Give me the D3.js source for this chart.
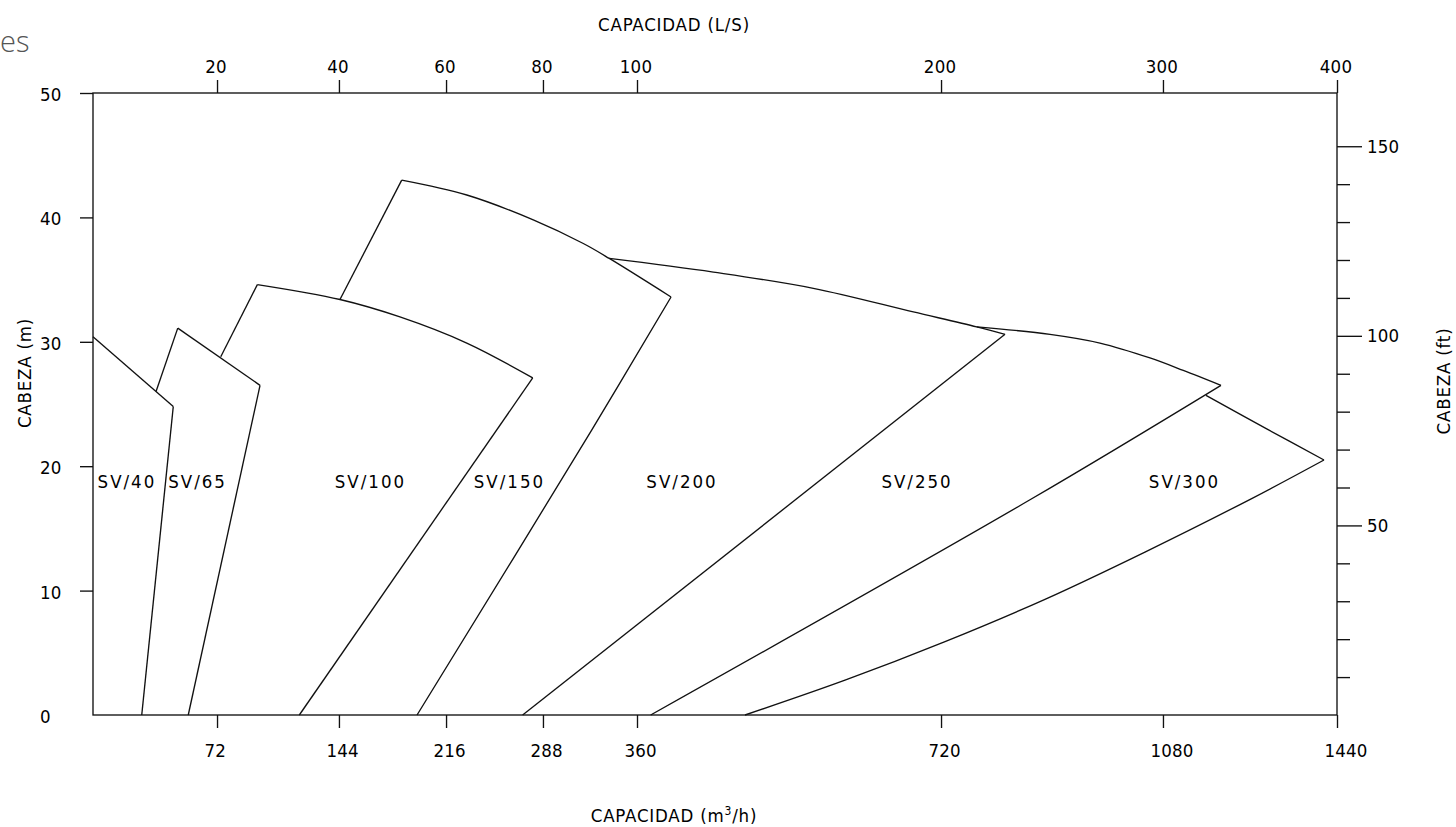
<!DOCTYPE html>
<html>
<head>
<meta charset="utf-8">
<script src="https://cdn.jsdelivr.net/npm/d3@7"></script>
<style>
  html, body { margin: 0; padding: 0; background: #fff; }
  svg { display: block; }
  text { font-family: "DejaVu Sans Condensed", "DejaVu Sans", sans-serif; fill: #000; }
</style>
</head>
<body>
<svg id="chart" width="1456" height="827"></svg>
<script>
// ---- axis ticks ----
const flowTicksM3h = [72, 144, 216, 288, 360, 720, 1080, 1440];
const flowTicksLs  = [20, 40, 60, 80, 100, 200, 300, 400];
const headTicksM   = [10, 20, 30, 40, 50];
const headLabelsM  = [0, 10, 20, 30, 40, 50];
const headTicksFt  = [10, 20, 30, 40, 50, 60, 70, 80, 90, 100, 110, 120, 130, 140, 150];
const headLabelsFt = [50, 100, 150];

// ---- pump models: operating envelopes as [capacity m³/h, head m] ----
const models = ["SV/40", "SV/65", "SV/100", "SV/150", "SV/200", "SV/250", "SV/300"];
const labelFlow = [19.7, 60.7, 165.2, 263.1, 413.3, 691.6, 1124.5];
const labelHead = 18.8;

// each outline is a list of edges; an edge is drawn straight or smoothly through its points
const sv40 = [
  [[0, 30.4], [46.6, 24.8]],
  [[46.6, 24.8], [28.3, 0]]
];
const sv65 = [
  [[36.6, 26.0], [49.2, 31.1]],
  [[49.2, 31.1], [97.4, 26.5]],
  [[97.4, 26.5], [55.3, 0]]
];
const sv100 = [
  [[74.2, 28.8], [95.8, 34.6]],
  [[95.8, 34.6], [144.7, 33.4], [185.0, 32.0], [231.4, 29.9], [280.4, 27.1]],
  [[280.4, 27.1], [120.6, 0]]
];
const sv150 = [
  [[144.7, 33.4], [186.2, 43.0]],
  [[186.2, 43.0], [231.4, 41.8], [280.8, 39.8], [318.9, 37.9], [338.8, 36.7], [400.3, 33.6]],
  [[400.3, 33.6], [325.3, 22.9], [196.5, 0]]
];
const sv200 = [
  [[338.8, 36.7], [450.4, 35.6], [568.8, 34.3], [687.2, 32.4], [777.9, 31.2], [823.8, 30.6]],
  [[823.8, 30.6], [272.9, 0]]
];
const sv250 = [
  [[777.9, 31.2], [896.8, 30.6], [977.8, 29.9], [1058.9, 28.7], [1122.0, 27.7], [1200, 26.5]],
  [[1200, 26.5], [864.3, 17.3], [376.2, 0]]
];
const sv300 = [
  [[1169.0, 25.7], [1294.6, 23.0], [1413.1, 20.5]],
  [[1413.1, 20.5], [1263.5, 17.4], [1050.8, 13.1], [888.6, 9.3], [726.5, 5.9], [606.3, 2.8], [487.9, 0]]
];
const outlines = [sv40, sv65, sv100, sv150, sv200, sv250, sv300];

// ---- layout ----
const svg = d3.select("#chart");
const plotLeft = 93, plotRight = 1337, plotTop = 93, plotBottom = 715;
const plotW = plotRight - plotLeft;
const LS_TO_M3H = 3.6;
const M_PER_FT = 0.3048;

// the capacity axis is graduated non-uniformly: each labelled step has its own length
const stepShare = [0, 0.0997, 0.1977, 0.2838, 0.3617, 0.4373, 0.6817, 0.8601, 1];
const x = d3.scaleLinear()
  .domain([0, ...flowTicksM3h])
  .range(stepShare.map(f => plotLeft + f * plotW));
const xLs = d3.scaleLinear()
  .domain(x.domain().map(v => v / LS_TO_M3H))
  .range(x.range());

const y = d3.scaleLinear().domain([0, 50]).range([plotBottom, plotTop]);
const yFt = d3.scaleLinear().domain([0, 50 / M_PER_FT]).range([plotBottom, plotTop]);

const ink = "#111";
const sw = 1.35;
const numSize = 18.5, numSpacing = "0.2px";

// ---- frame ----
svg.append("rect")
  .attr("x", plotLeft).attr("y", plotTop)
  .attr("width", plotW).attr("height", plotBottom - plotTop)
  .attr("fill", "none").attr("stroke", ink).attr("stroke-width", sw);

// ---- axes ----
function styleAxis(g) {
  g.select(".domain").remove();
  g.selectAll("line").attr("stroke", ink).attr("stroke-width", sw);
  g.selectAll("text").attr("font-size", numSize).attr("letter-spacing", numSpacing)
    .attr("fill", "#000");
  g.attr("font-family", null).attr("font-size", null);
}

// bottom: m³/h
svg.append("g")
  .attr("transform", `translate(0,${plotBottom})`)
  .call(d3.axisBottom(x).tickValues(flowTicksM3h).tickSize(13).tickSizeOuter(0).tickFormat(d3.format("d")))
  .call(styleAxis)
  .call(g => g.selectAll("text").attr("y", 42).attr("dy", 0).attr("x", -13).attr("text-anchor", "start"));

// top: L/s
svg.append("g")
  .attr("transform", `translate(0,${plotTop})`)
  .call(d3.axisTop(xLs).tickValues(flowTicksLs).tickSize(13).tickSizeOuter(0).tickFormat(d3.format("d")))
  .call(styleAxis)
  .call(g => g.selectAll("text").attr("y", -20).attr("dy", 0).attr("x", -1.5).attr("text-anchor", "middle"));

// left: metres
svg.append("g")
  .attr("transform", `translate(${plotLeft},0)`)
  .call(d3.axisLeft(y).tickValues(headTicksM).tickSize(13).tickSizeOuter(0).tickFormat(() => ""))
  .call(styleAxis);
svg.append("g").selectAll("text")
  .data(headLabelsM).join("text")
  .attr("x", 40).attr("y", d => y(d) + 8)
  .attr("font-size", numSize).attr("letter-spacing", numSpacing)
  .text(d => d);

// right: feet, long ticks on labelled values
svg.append("g")
  .attr("transform", `translate(${plotRight},0)`)
  .call(d3.axisRight(yFt).tickValues(headTicksFt).tickSize(13).tickSizeOuter(0).tickFormat(() => ""))
  .call(styleAxis)
  .call(g => g.selectAll(".tick line").filter(d => headLabelsFt.includes(d)).attr("x2", 25));
svg.append("g").selectAll("text")
  .data(headLabelsFt).join("text")
  .attr("x", plotRight + 30).attr("y", d => yFt(d) + 6.5)
  .attr("font-size", numSize).attr("letter-spacing", numSpacing)
  .text(d => d);

// ---- axis titles ----
const titleSize = 18.5, titleSpacing = "0.8px";
svg.append("text")
  .attr("x", 674).attr("y", 31).attr("text-anchor", "middle")
  .attr("font-size", titleSize).attr("letter-spacing", titleSpacing)
  .text("CAPACIDAD (L/S)");

const bt = svg.append("text")
  .attr("x", 674).attr("y", 822).attr("text-anchor", "middle")
  .attr("font-size", titleSize).attr("letter-spacing", titleSpacing);
bt.append("tspan").text("CAPACIDAD (m");
bt.append("tspan").attr("dy", -7).attr("font-size", 12).text("3");
bt.append("tspan").attr("dy", 7).text("/h)");

svg.append("text")
  .attr("transform", "translate(31,373) rotate(-90)")
  .attr("text-anchor", "middle")
  .attr("font-size", titleSize).attr("letter-spacing", titleSpacing)
  .text("CABEZA (m)");

svg.append("text")
  .attr("transform", "translate(1450,381) rotate(-90)")
  .attr("text-anchor", "middle")
  .attr("font-size", titleSize).attr("letter-spacing", titleSpacing)
  .text("CABEZA (ft)");

// trailing fragment of the page heading
svg.append("text")
  .attr("x", 0).attr("y", 52).attr("text-anchor", "start")
  .style("font-family", "'Open Sans', sans-serif").attr("font-weight", 300)
  .attr("font-size", 29).style("fill", "#555")
  .text("es");

// ---- envelopes ----
const edge = d3.line()
  .x(d => x(d[0]))
  .y(d => y(d[1]))
  .curve(d3.curveCatmullRom.alpha(0.5));

const env = svg.append("g").attr("fill", "none").attr("stroke", ink)
  .attr("stroke-width", sw).attr("stroke-linejoin", "miter");
outlines.forEach(outline => {
  env.append("g").selectAll("path")
    .data(outline).join("path")
    .attr("d", edge);
});

// ---- model labels ----
svg.append("g").selectAll("text")
  .data(models).join("text")
  .attr("x", (d, i) => x(labelFlow[i]))
  .attr("y", y(labelHead))
  .attr("dy", "0.36em")
  .attr("text-anchor", "middle")
  .attr("font-size", 18.5).attr("letter-spacing", "2px")
  .text(d => d);
</script>
</body>
</html>
